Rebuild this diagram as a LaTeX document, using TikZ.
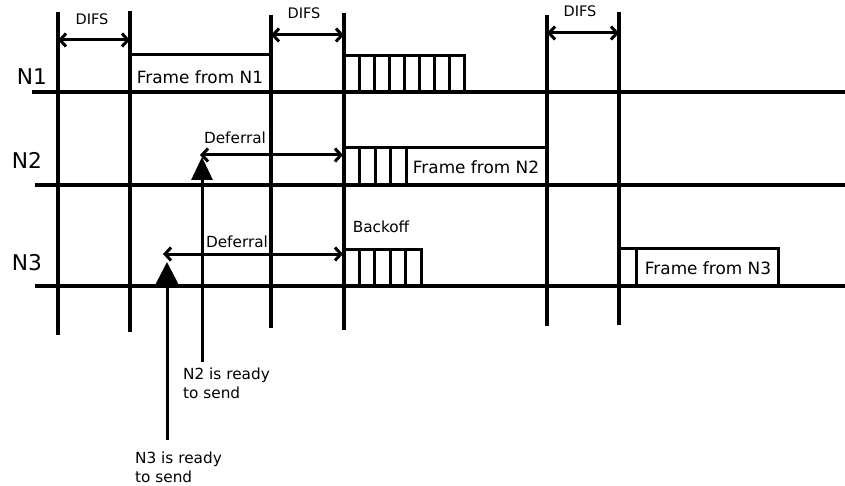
\documentclass[tikz,border=0pt]{standalone}
\usepackage{fontspec}
\setmainfont{DejaVu Sans}
\usetikzlibrary{arrows.meta, positioning}

\begin{document}
\begin{tikzpicture}[x=1pt, y=-1pt,
    timeline/.style={line width=3.4pt},
    marker/.style={line width=3.4pt},
    slotbox/.style={line width=3pt},
    span/.style={{Straight Barb[length=6pt,width=13pt,line width=3pt]}-{Straight Barb[length=6pt,width=13pt,line width=3pt]}, line width=3pt},
    ready/.style={line width=3pt},
    lbl/.style={inner sep=0pt, font=\fontsize{15.3}{19}\selectfont},
    difslbl/.style={inner sep=0pt, font=\fontsize{14.5}{17}\selectfont},
    framelbl/.style={inner sep=0pt, font=\fontsize{16.9}{20}\selectfont},
    station/.style={inner sep=0pt, font=\fontsize{21.7}{26}\selectfont}]
  \useasboundingbox (0,0) rectangle (845,486);
  \foreach \name/\x/\ya/\yb in {a/58/12/335, b/130/11/332, c/271/15/328, d/344/13/330, e/547/15/326, f/619/12/325} {
    \coordinate (\name up) at (\x,\ya);
    \coordinate (\name down) at (\x,\yb);
    \draw[marker] (\name up) -- (\name down);
  }
  \coordinate (n1in) at (32,92);  \coordinate (n1out) at (845,92);
  \coordinate (n2in) at (35,185); \coordinate (n2out) at (845,185);
  \coordinate (n3in) at (35,286); \coordinate (n3out) at (845,286);
  \draw[timeline] (n1in) -- (n1out);
  \draw[timeline] (n2in) -- (n2out);
  \draw[timeline] (n3in) -- (n3out);
  \node[station] (N1) at (32,77) {N1};
  \node[station] (N2) at (27,160) {N2};
  \node[station] (N3) at (27,263) {N3};

  \draw[slotbox] (130,92) rectangle (271,55);
  \node[framelbl] (frame1) at (200,77) {Frame from N1};
  \foreach \i in {0,...,7}
    \draw[slotbox] (344+15*\i,92) rectangle ++(15,-36);

  \foreach \i in {0,...,3}
    \draw[slotbox] (344+15.5*\i,185) rectangle ++(15.5,-37);
  \draw[slotbox] (406,185) rectangle (547,148);
  \node[framelbl] (frame2) at (476,167) {Frame from N2};

  \foreach \i in {0,...,4}
    \draw[slotbox] (344+15.4*\i,286) rectangle ++(15.4,-37);
  \node[lbl] (backoff) at (381,227) {Backoff};
  \draw[slotbox] (619,286) rectangle (636,248);
  \draw[slotbox] (636,286) rectangle (778,248);
  \node[framelbl] (frame3) at (708,268) {Frame from N3};

  \coordinate (d1a) at (58,40);  \coordinate (d1b) at (130,40);
  \coordinate (d2a) at (271,35); \coordinate (d2b) at (344,35);
  \coordinate (d3a) at (547,33); \coordinate (d3b) at (619,33);
  \draw[span] (d1a) -- (d1b);
  \draw[span] (d2a) -- (d2b);
  \draw[span] (d3a) -- (d3b);
  \node[difslbl] (difs1) at (92,19) {DIFS};
  \node[difslbl] (difs2) at (304,13) {DIFS};
  \node[difslbl] (difs3) at (580,11) {DIFS};

  \coordinate (def2a) at (200,155); \coordinate (def2b) at (343,155);
  \coordinate (def3a) at (163,254); \coordinate (def3b) at (343,254);
  \draw[span] (def2a) -- (def2b);
  \draw[span] (def3a) -- (def3b);
  \node[lbl] (defer2) at (235,138) {Deferral};
  \node[lbl] (defer3) at (237,242) {Deferral};

  \coordinate (rdy2) at (202,362); \coordinate (tip2) at (202,157);
  \coordinate (rdy3) at (167,440); \coordinate (tip3) at (167,262);
  \draw[ready, -{Triangle[length=23pt,width=21pt]}] (rdy2) -- (tip2);
  \draw[ready, -{Triangle[length=24pt,width=24pt]}] (rdy3) -- (tip3);
  \node[lbl, align=left, anchor=north west] (say2) at (183,368) {N2 is ready\\to send};
  \node[lbl, align=left, anchor=north west] (say3) at (135,452) {N3 is ready\\to send};
\end{tikzpicture}
\end{document}
